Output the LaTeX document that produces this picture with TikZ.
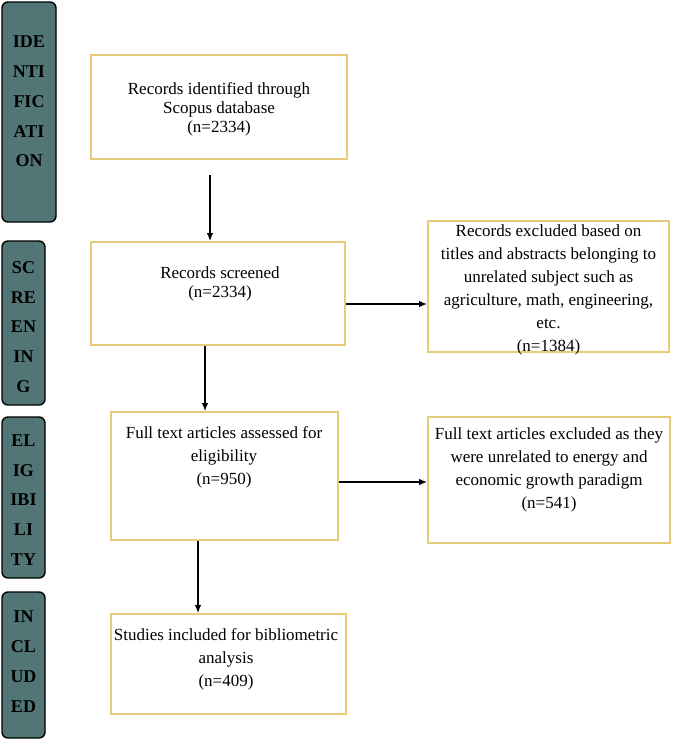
\documentclass[tikz,border=0pt]{standalone}
\usepackage{fontspec}
\setmainfont{Liberation Serif}
\usetikzlibrary{arrows.meta}
\definecolor{gold}{RGB}{232,203,118}
\definecolor{teal}{RGB}{82,118,118}
\tikzset{
  box/.style={draw=gold, line width=1.8pt, fill=white, inner sep=0pt},
  txt/.style={align=center, font=\fontsize{17}{23}\selectfont, inner sep=0pt},
  txtt/.style={align=center, font=\fontsize{17}{19}\selectfont, inner sep=0pt},
  phase/.style={draw=black, line width=1.4pt, fill=teal, rounded corners=6pt, inner sep=0pt},
  phtxt/.style={align=center, font=\fontsize{18}{29.8}\selectfont\bfseries, inner sep=0pt},
  arr/.style={-{Latex[length=8pt,width=6.5pt]}, line width=1.3pt, black}
}
\begin{document}
\begin{tikzpicture}[x=1pt,y=-1pt]
\useasboundingbox (0,0) rectangle (685,742);
% phase bars
\node[phase, minimum width=54pt, minimum height=220pt] (p1) at (29,112) {};
\node[phtxt] (p1t) at (29,101.5) {IDE\\NTI\\FIC\\ATI\\ON};
\node[phase, minimum width=43pt, minimum height=164pt] (p2) at (23.5,323) {};
\node[phtxt] (p2t) at (23.5,327) {SC\\RE\\EN\\IN\\G};
\node[phase, minimum width=43pt, minimum height=161pt] (p3) at (23.5,497.5) {};
\node[phtxt] (p3t) at (23.5,500) {EL\\IG\\IBI\\LI\\TY};
\node[phase, minimum width=43pt, minimum height=146pt] (p4) at (23.5,665) {};
\node[phtxt] (p4t) at (23.5,661.5) {IN\\CL\\UD\\ED};
% boxes
\node[box, minimum width=256pt, minimum height=104pt] (b1) at (219,107) {};
\node[txtt] (t1) at (219,109) {Records identified through\\Scopus database\\(n=2334)};
\node[box, minimum width=254pt, minimum height=103pt] (b2) at (218,293.5) {};
\node[txtt] (t2) at (220,284) {Records screened\\(n=2334)};
\node[box, minimum width=241pt, minimum height=131pt] (b3) at (548.5,286.5) {};
\node[txt] (t3) at (548.5,290) {Records excluded based on\\titles and abstracts belonging to\\unrelated subject such as\\agriculture, math, engineering,\\etc.\\(n=1384)};
\node[box, minimum width=227pt, minimum height=128pt] (b4) at (224.5,476) {};
\node[txt] (t4) at (224,457) {Full text articles assessed for\\eligibility\\(n=950)};
\node[box, minimum width=242pt, minimum height=126pt] (b5) at (549,480) {};
\node[txt] (t5) at (549,470) {Full text articles excluded as they\\were unrelated to energy and\\economic growth paradigm\\(n=541)};
\node[box, minimum width=235pt, minimum height=100pt] (b6) at (228.5,664) {};
\node[txt] (t6) at (226,659) {Studies included for bibliometric\\analysis\\(n=409)};
% arrows
\coordinate (a1) at (210,175);
\coordinate (a2) at (205,0);
\coordinate (a3) at (0,304);
\coordinate (a4) at (0,482);
\coordinate (a5) at (198,0);
\draw[arr] (a1) -- (a1 |- b2.north);
\draw[arr] (b2.east |- a3) -- (b3.west |- a3);
\draw[arr] (b2.south -| a2) -- (b4.north -| a2);
\draw[arr] (b4.east |- a4) -- (b5.west |- a4);
\draw[arr] (b4.south -| a5) -- (b6.north -| a5);
\end{tikzpicture}
\end{document}
